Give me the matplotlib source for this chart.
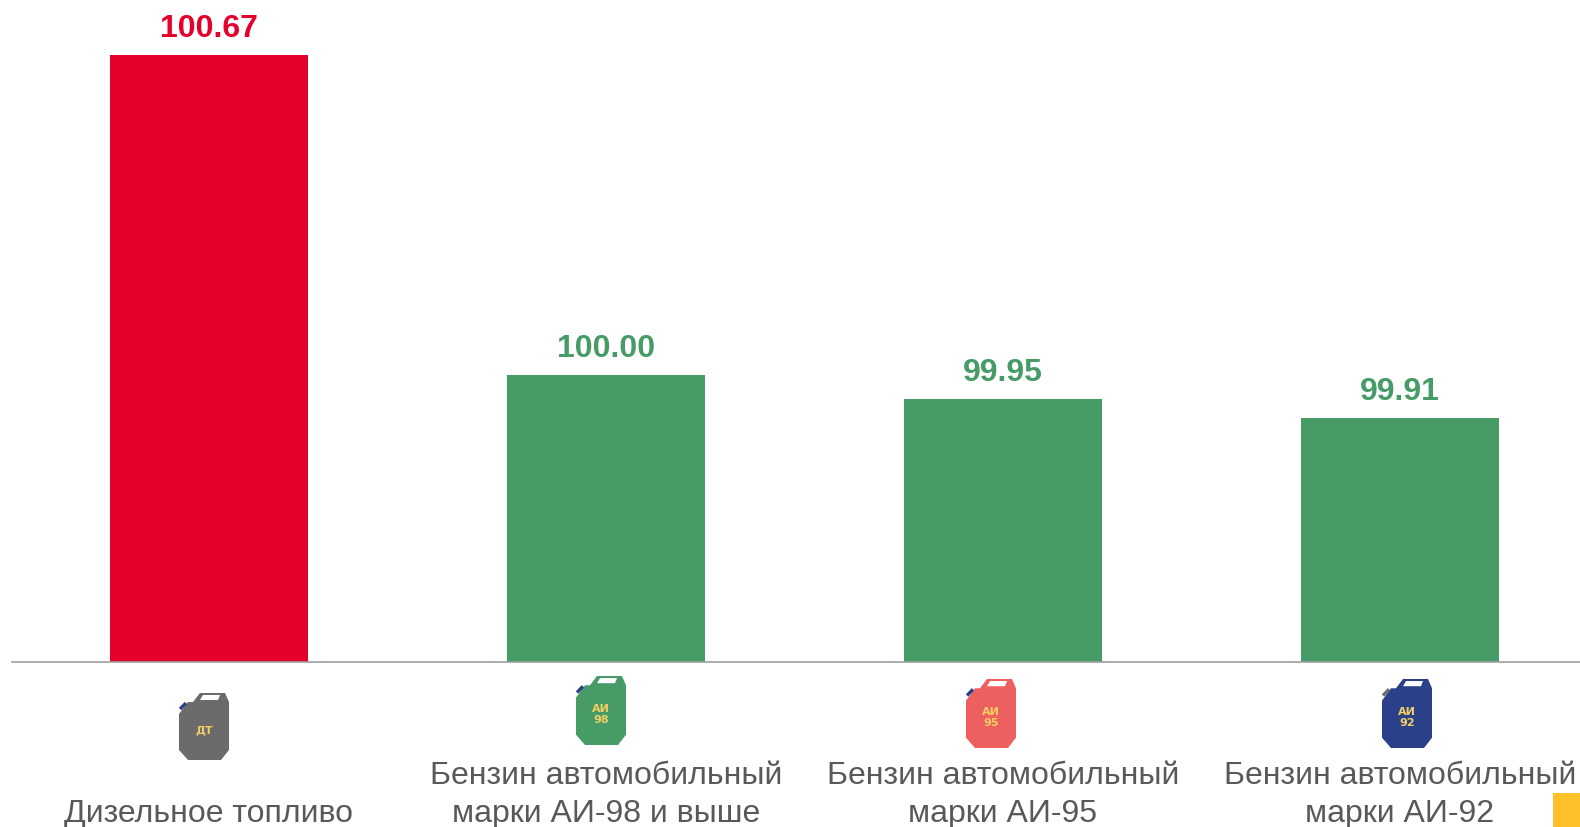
import matplotlib
matplotlib.use("Agg")
import matplotlib.pyplot as plt
from matplotlib.patches import Polygon, Rectangle

# данные
categories = ["Дизельное топливо",
              "Бензин автомобильный\nмарки АИ-98 и выше",
              "Бензин автомобильный\nмарки АИ-95",
              "Бензин автомобильный\nмарки АИ-92"]
values = [100.67, 100.00, 99.95, 99.91]
value_labels = ["100.67", "100.00", "99.95", "99.91"]
bar_colors = ["#E4002B", "#469B67", "#469B67", "#469B67"]

# канистры: подпись, цвет, цвет носика, левый край, верх, высота (в пикселях)
can_texts = ["ДТ", "АИ\n98", "АИ\n95", "АИ\n92"]
can_colors = ["#6B6B6B", "#469B67", "#EE6060", "#2A4189"]
spout_colors = ["#2A4189", "#2A4189", "#2A4189", "#6B6B6B"]
can_left = [179, 576, 966, 1382]
can_top = [693, 676, 679, 679]
can_height = [67, 69, 69, 69]

plt.rcParams["font.family"] = ["Liberation Sans", "DejaVu Sans"]

W, H = 1580, 827
fig = plt.figure(figsize=(W / 100, H / 100), dpi=100)

# ось шире рисунка: последняя категория обрезана справа
ax = fig.add_axes([10.5 / W, (H - 662) / H, 1588 / W, 662 / H])
ax.bar(range(4), values, width=0.5, color=bar_colors)
ax.set_xlim(-0.5, 3.5)
ax.set_ylim(99.4, 100.785)
ax.set_yticks([])
ax.set_xticks([])
for s in ["top", "left", "right"]:
    ax.spines[s].set_visible(False)
ax.spines["bottom"].set_color("#A0A0A0")
ax.spines["bottom"].set_linewidth(1.2)
ax.spines["bottom"].set_bounds(-0.497, 3.5)

for i in range(4):
    ax.annotate(value_labels[i], (i, values[i]), xytext=(0, 8), textcoords="offset points",
                ha="center", va="bottom", fontsize=23, fontweight="bold", color=bar_colors[i])

# слой в пикселях для канистр и подписей
ov = fig.add_axes([0, 0, 1, 1])
ov.set_xlim(0, W)
ov.set_ylim(H, 0)
ov.axis("off")


def can(x0, y0, h, color, spout, txt):
    k = h / 67
    body = [(0, 21), (9, 9), (14, 9), (21, 0), (46, 0), (50, 9), (50, 57), (42, 67), (9, 67), (0, 57)]
    window = [(21, 7), (39, 7), (41, 2), (24, 2)]
    ov.add_patch(Polygon([(x0 + x, y0 + y * k) for x, y in body], closed=True, color=color, lw=0))
    ov.add_patch(Polygon([(x0 + x, y0 + y * k) for x, y in window], closed=True, color="white", lw=0))
    ov.plot([x0 + 1, x0 + 7], [y0 + 16 * k, y0 + 10 * k], color=spout, lw=2.4, solid_capstyle="butt")
    ov.text(x0 + 25, y0 + 37 * k, txt, ha="center", va="center", fontsize=8, fontweight="bold",
            color="#F2CF63", linespacing=1.1, family="DejaVu Sans")


for i in range(4):
    can(can_left[i], can_top[i], can_height[i], can_colors[i], spout_colors[i], can_texts[i])
    ov.text(209 + 397 * i, 822, categories[i], ha="center", va="baseline", fontsize=23,
            color="#595959", linespacing=1.34)

# жёлтый квадрат в углу
ov.add_patch(Rectangle((1553, 793), 27, 34, color="#FFC12B", lw=0))

fig.savefig("out.png", dpi=100)
